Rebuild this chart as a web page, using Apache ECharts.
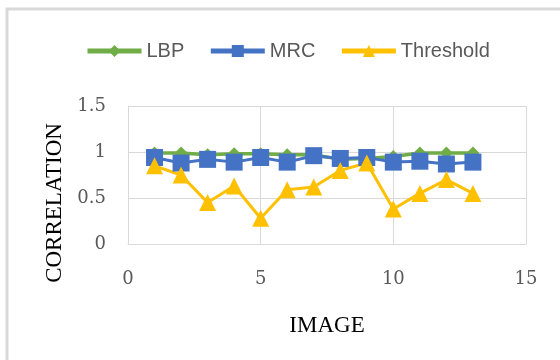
<!DOCTYPE html>
<html><head><meta charset="utf-8">
<script src="https://cdn.jsdelivr.net/npm/echarts@6/dist/echarts.min.js"></script>
<style>html,body{margin:0;padding:0;background:#fff}#c{width:560px;height:360px}</style>
</head><body><div id="c"></div>
<script>
const images = [1,2,3,4,5,6,7,8,9,10,11,12,13];
const lbp = [0.99,0.99,0.97,0.98,0.98,0.97,0.97,0.92,0.93,0.95,0.99,0.99,0.99];
const mrc = [0.94,0.88,0.92,0.89,0.94,0.89,0.96,0.93,0.94,0.89,0.90,0.87,0.89];
const threshold = [0.85,0.75,0.45,0.63,0.28,0.59,0.62,0.80,0.88,0.38,0.55,0.70,0.55];
const xTicks = [0,5,10,15];
const yTicks = [0,0.5,1,1.5];

const pair = (arr) => images.map((x,i)=>[x,arr[i]]);
const chart = echarts.init(document.getElementById('c'));
const serif = "'Liberation Serif', 'Times New Roman', serif";
chart.setOption({
  animation:false,
  backgroundColor:'#fff',
  graphic:[
    {type:'rect', shape:{x:7,y:9,width:600,height:400}, style:{fill:'none',stroke:'#d9d9d9',lineWidth:3}, silent:true},
    {type:'text', x:55, y:203, rotation:Math.PI/2, style:{text:'CORRELATION', font:"23px 'Liberation Serif'", fill:'#000', align:'center', verticalAlign:'middle'}}
  ],
  legend:{
    top:36, left:80,
    itemWidth:54, itemHeight:15, itemGap:24,
    lineStyle:{width:5},
    textStyle:{fontFamily:"'Liberation Sans', Arial, sans-serif", fontSize:20, color:'#595959'},
    data:['LBP','MRC','Threshold']
  },
  grid:{left:128,right:34,top:106,bottom:116},
  xAxis:{
    type:'value', min:0, max:15, interval:5,
    name:'IMAGE', nameLocation:'middle', nameGap:70,
    nameTextStyle:{fontFamily:serif, fontSize:23, color:'#000'},
    axisLine:{show:true, lineStyle:{color:'#d9d9d9', width:1}},
    axisTick:{show:false},
    axisLabel:{margin:26, fontFamily:"'DejaVu Serif', serif", fontSize:18, color:'#595959',
      formatter:(v)=> xTicks.includes(v)? String(v):''},
    splitLine:{show:true, lineStyle:{color:'#d9d9d9', width:1}}
  },
  yAxis:{
    type:'value', min:0, max:1.5, interval:0.5,
    axisLine:{show:true, lineStyle:{color:'#d9d9d9', width:1}},
    axisTick:{show:false},
    axisLabel:{margin:22, fontFamily:"'DejaVu Serif', serif", fontSize:18, color:'#595959',
      formatter:(v)=> yTicks.includes(v)? String(v):''},
    splitLine:{show:true, lineStyle:{color:'#d9d9d9', width:1}}
  },
  series:[
    {name:'LBP', type:'line', data:pair(lbp), symbol:'diamond', symbolSize:13,
     itemStyle:{color:'#70ad47'}, lineStyle:{color:'#70ad47', width:3.5}},
    {name:'MRC', type:'line', data:pair(mrc), symbol:'rect', symbolSize:17,
     itemStyle:{color:'#4472c4'}, lineStyle:{color:'#4472c4', width:3}},
    {name:'Threshold', type:'line', data:pair(threshold), symbol:'triangle', symbolSize:17,
     itemStyle:{color:'#ffc000'}, lineStyle:{color:'#ffc000', width:3}}
  ]
});
</script></body></html>
